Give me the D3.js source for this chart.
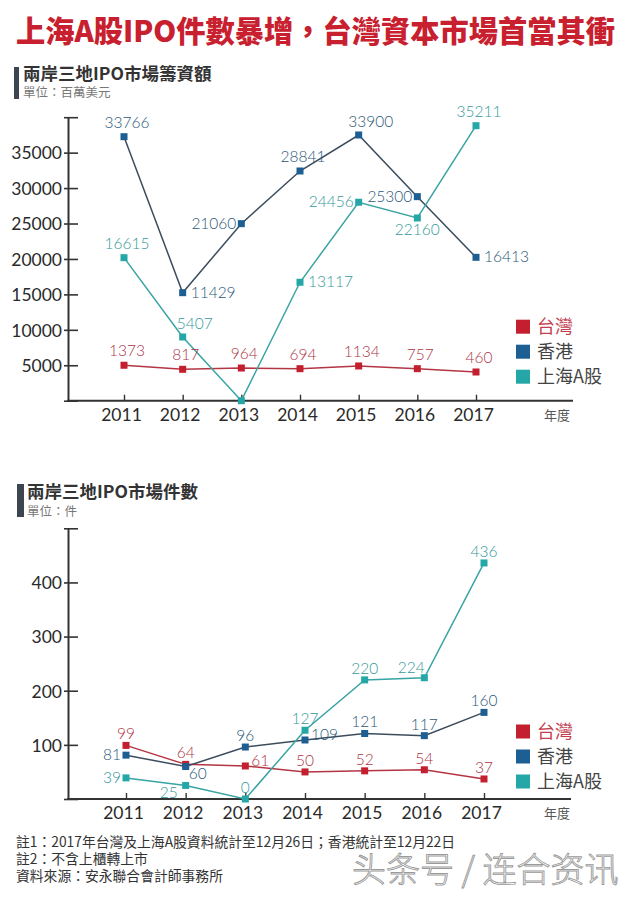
<!DOCTYPE html>
<html><head><meta charset="utf-8">
<script src="https://cdn.jsdelivr.net/npm/d3@7"></script>
<style>html,body{margin:0;padding:0;background:#fff;}svg{display:block;}</style>
</head><body>
<script>
// ---------- DATA ----------
const years = ["2011","2012","2013","2014","2015","2016","2017"];
const seriesNames = ["台灣","香港","上海A股"];

// Chart 1: IPO funds raised (million USD) – printed labels
const amountTW = [1373, 817, 964, 694, 1134, 757, 460];
const amountHK = [33766, 11429, 21060, 28841, 33900, 25300, 16413];
const amountSH = [16615, 5407, 0, 13117, 24456, 22160, 35211];
// Chart 1: heights at which the original draws the points (read against its axis)
const amountTWDrawn = [5000, 4430, 4610, 4520, 4900, 4520, 4050];
const amountHKDrawn = [37250, 15240, 24980, 32410, 37490, 28790, 20230];
const amountSHDrawn = [20180, 8990, 0, 16710, 28000, 25780, 38800];
const amountTicks = [0, 5000, 10000, 15000, 20000, 25000, 30000, 35000, 40000];

// Chart 2: number of IPOs
const countTW = [99, 64, 61, 50, 52, 54, 37];
const countHK = [81, 60, 96, 109, 121, 117, 160];
const countSH = [39, 25, 0, 127, 220, 224, 436];
const countTicks = [0, 100, 200, 300, 400, 500];

// ---------- STYLE / LAYOUT ----------
const colors = {
  "台灣":   {line:"#b43544", mark:"#c41f2f", text:"#ad3545", legendText:"#c4404f"},
  "香港":   {line:"#3b4c5d", mark:"#1d5e93", text:"#2a5878", legendText:"#444"},
  "上海A股": {line:"#3aa3a3", mark:"#25a7a7", text:"#34999a", legendText:"#444"}
};
const amountPlace = {
  "台灣":   ['t','t','t','t','t','t','t'],
  "香港":   ['t','r','l','t','tr','l','r'],
  "上海A股": ['t','tr','none','r','l','b','t']
};
const countPlace = {
  "台灣":   ['t','t','ru','t','t','t','t'],
  "香港":   ['l','br','t','ru','t','t','t'],
  "上海A股": ['l','bl','t','t','t','tl','t']
};

const NUM = "Lato, 'DejaVu Sans', sans-serif";
const CJK = "'Noto Sans CJK TC', 'Noto Sans CJK SC', sans-serif";

const W = 640, H = 899;
const svg = d3.select("body").append("svg").attr("width", W).attr("height", H);

// Title
svg.append("text").attr("x", 16).attr("y", 42)
  .attr("font-family", CJK).attr("font-weight", 900).attr("font-size", 30)
  .attr("fill", "#c8202f").attr("textLength", 599).attr("lengthAdjust", "spacingAndGlyphs")
  .text("上海A股IPO件數暴增，台灣資本市場首當其衝");

function header(barX, barW, barY0, barY1, tx, ty, title, unit, uy) {
  svg.append("rect").attr("x", barX).attr("y", barY0).attr("width", barW).attr("height", barY1 - barY0).attr("fill", "#3d4650");
  svg.append("text").attr("x", tx).attr("y", ty).attr("font-family", CJK).attr("font-weight", 700)
    .attr("font-size", 17.5).attr("fill", "#333").text(title);
  svg.append("text").attr("x", tx).attr("y", uy).attr("font-family", CJK).attr("font-weight", 400)
    .attr("font-size", 12.5).attr("fill", "#777").text(unit);
}
header(14, 5, 67, 99, 23, 80, "兩岸三地IPO市場籌資額", "單位：百萬美元", 96.5);
header(17, 7, 484, 517, 27, 498, "兩岸三地IPO市場件數", "單位：件", 515.5);

function offsets(code, tdx, tdy) {
  switch (code) {
    case 't':  return [tdx, tdy, "middle"];
    case 'tr': return [12, -8, "middle"];
    case 'tl': return [-13, -5, "middle"];
    case 'r':  return [8, 5, "start"];
    case 'ru': return [6, 0, "start"];
    case 'l':  return [-5, 5, "end"];
    case 'b':  return [0, 17, "middle"];
    case 'br': return [3, 12, "start"];
    case 'bl': return [-8, 13, "end"];
  }
  return null;
}

function drawChart(cfg) {
  const g = svg.append("g");
  const x = d3.scalePoint().domain(years).range(cfg.xRange);
  const y = d3.scaleLinear().domain([0, d3.max(cfg.ticks)]).range([cfg.y0, cfg.yTop]);

  // y axis
  const yAxis = d3.axisLeft(y).tickValues(cfg.ticks).tickSize(0)
    .tickFormat(d => (d === 0 || d === d3.max(cfg.ticks)) ? "" : d);
  const ya = g.append("g").attr("transform", `translate(${cfg.axisX},0)`).call(yAxis);
  ya.select(".domain").attr("stroke", "#333").attr("stroke-width", 2);
  ya.selectAll(".tick line").attr("x1", -4).attr("x2", 10).attr("stroke", "#333").attr("stroke-width", 1.6);
  ya.selectAll(".tick text").attr("x", -6).attr("dy", "0.36em")
    .attr("font-family", NUM).attr("font-weight", 400).attr("font-size", 17.5).attr("fill", "#2a2a2a");

  // x axis
  const xAxis = d3.axisBottom(x).tickSize(0).tickPadding(0);
  const xa = g.append("g").attr("transform", `translate(0,${cfg.y0})`).call(xAxis);
  xa.select(".domain").remove();
  g.append("line").attr("x1", cfg.axisX - 1).attr("x2", cfg.axisEnd).attr("y1", cfg.y0).attr("y2", cfg.y0)
    .attr("stroke", "#333").attr("stroke-width", 2);
  xa.selectAll(".tick line").attr("y1", 0).attr("y2", -6).attr("stroke", "#333").attr("stroke-width", 1.4);
  xa.selectAll(".tick text").attr("x", -3).attr("y", 20).attr("dy", 0)
    .attr("font-family", NUM).attr("font-weight", 400).attr("font-size", 17.5).attr("fill", "#2a2a2a");
  g.append("text").attr("x", 544).attr("y", cfg.y0 + 19).attr("font-family", CJK)
    .attr("font-size", 13).attr("fill", "#555").text("年度");

  const line = d3.line().x((d, i) => x(years[i])).y(d => y(d));
  cfg.series.forEach(s => {
    const c = colors[s.name];
    g.append("path").attr("d", line(s.drawn)).attr("fill", "none")
      .attr("stroke", c.line).attr("stroke-width", 1.5);
  });
  cfg.series.forEach(s => {
    const c = colors[s.name];
    g.selectAll(null).data(s.drawn).enter().append("rect")
      .attr("x", (d, i) => x(years[i]) - 3.5).attr("y", d => y(d) - 3.5)
      .attr("width", 7).attr("height", 7).attr("fill", c.mark);
  });
  cfg.series.forEach(s => {
    const c = colors[s.name];
    s.labels.forEach((v, i) => {
      const o = offsets(cfg.place[s.name][i], cfg.tdx, cfg.tdy);
      if (!o) return;
      g.append("text").attr("x", x(years[i]) + o[0]).attr("y", y(s.drawn[i]) + o[1])
        .attr("text-anchor", o[2]).attr("font-family", NUM).attr("font-weight", 300).attr("font-size", 15.5)
        .attr("fill", c.text).text(v);
    });
  });

  // legend
  seriesNames.forEach((n, i) => {
    const cy = cfg.legendY + i * 25;
    g.append("rect").attr("x", 516).attr("y", cy - 7).attr("width", 14).attr("height", 14).attr("fill", colors[n].mark);
    g.append("text").attr("x", 537).attr("y", cy).attr("dy", "0.36em").attr("font-family", CJK)
      .attr("font-size", 18).attr("fill", colors[n].legendText).text(n);
  });
}

drawChart({
  xRange: [124, 476], y0: 400.7, yTop: 117.2, axisX: 68, axisEnd: 573,
  ticks: amountTicks, tdx: 3, tdy: -9, place: amountPlace, legendY: 326.7,
  series: [
    {name: "台灣", labels: amountTW, drawn: amountTWDrawn},
    {name: "香港", labels: amountHK, drawn: amountHKDrawn},
    {name: "上海A股", labels: amountSH, drawn: amountSHDrawn}
  ]
});

drawChart({
  xRange: [126, 484], y0: 799, yTop: 528.3, axisX: 68, axisEnd: 571,
  ticks: countTicks, tdx: 0, tdy: -6, place: countPlace, legendY: 731.5,
  series: [
    {name: "台灣", labels: countTW, drawn: countTW},
    {name: "香港", labels: countHK, drawn: countHK},
    {name: "上海A股", labels: countSH, drawn: countSH}
  ]
});

// Footnotes
const notes = ["註1：2017年台灣及上海A股資料統計至12月26日；香港統計至12月22日", "註2：不含上櫃轉上市", "資料來源：安永聯合會計師事務所"];
notes.forEach((t, i) => {
  svg.append("text").attr("x", 16).attr("y", 847 + i * 17).attr("font-family", CJK)
    .attr("font-size", 13.8).attr("fill", "#333").text(t);
});
// Watermark
svg.append("text").attr("x", 352).attr("y", 882).attr("font-family", "'Noto Sans CJK SC', sans-serif")
  .attr("font-size", 34).attr("font-weight", 300).attr("fill", "#fff").attr("stroke", "#9a9a9a")
  .attr("stroke-width", 0.9).text("头条号 / 连合资讯");
</script>
</body></html>
